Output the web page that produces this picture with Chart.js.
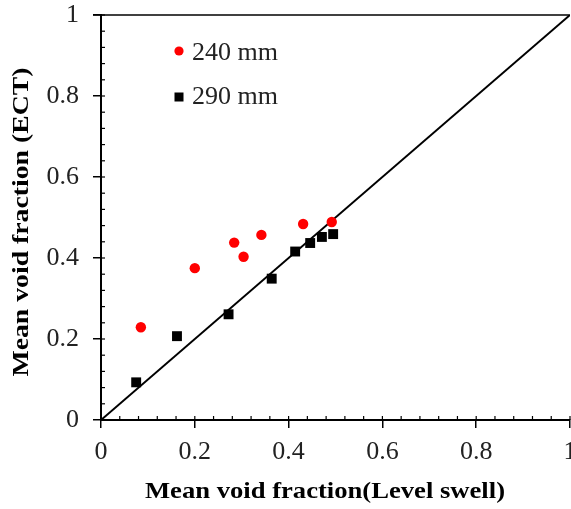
<!DOCTYPE html>
<html><head><meta charset="utf-8">
<script src="https://cdn.jsdelivr.net/npm/chart.js@4.4.1/dist/chart.umd.min.js"></script>
<style>html,body{margin:0;padding:0;background:#fff}#wrap{width:571px;height:509px}</style>
</head><body><div id="wrap"><canvas id="c" width="571" height="509"></canvas></div>
<script>
const seriesNames = ["240 mm", "290 mm"];
const x240 = [0.085, 0.200, 0.284, 0.304, 0.342, 0.431, 0.492];
const y240 = [0.229, 0.375, 0.438, 0.403, 0.457, 0.484, 0.489];
const x290 = [0.075, 0.162, 0.272, 0.364, 0.414, 0.446, 0.471, 0.495];
const y290 = [0.093, 0.207, 0.261, 0.349, 0.416, 0.437, 0.452, 0.459];
const xTitle = "Mean void fraction(Level swell)";
const yTitle = "Mean void fraction (ECT)";
const ticks = [0, 0.2, 0.4, 0.6, 0.8, 1];

const toPts = (xs, ys) => xs.map((x, i) => ({x, y: ys[i]}));
const SERIF = "'Liberation Serif', 'Times New Roman', Times, serif";

const extras = {
  id: 'extras',
  afterDraw(chart) {
    const ctx = chart.ctx, xs = chart.scales.x, ys = chart.scales.y;
    const ca = chart.chartArea;
    ctx.save();
    ctx.strokeStyle = '#000';
    ctx.lineWidth = 1.5;
    ctx.beginPath(); ctx.moveTo(ca.left - 8, ca.top); ctx.lineTo(ca.right, ca.top); ctx.stroke();
    ctx.lineWidth = 1.2;
    for (let i = 0; i <= 25; i++) {
      const v = i * 0.04;
      const px = xs.getPixelForValue(v), py = ys.getPixelForValue(v);
      ctx.beginPath(); ctx.moveTo(px, ca.bottom); ctx.lineTo(px, ca.bottom - 4); ctx.stroke();
      ctx.beginPath(); ctx.moveTo(ca.left, py); ctx.lineTo(ca.left + 4, py); ctx.stroke();
    }
    ctx.fillStyle = '#000';
    const drawScaled = (text, font, cx, cy, width, rot) => {
      ctx.save();
      ctx.font = font;
      const w = ctx.measureText(text).width;
      ctx.translate(cx, cy);
      if (rot) ctx.rotate(rot);
      ctx.scale(width / w, 1);
      ctx.textAlign = 'center'; ctx.textBaseline = 'middle';
      ctx.fillText(text, 0, 0);
      ctx.restore();
    };
    drawScaled(xTitle, 'bold 24px ' + SERIF, 325, 492, 360, 0);
    drawScaled(yTitle, 'bold 24px ' + SERIF, 22, 222, 309, -Math.PI / 2);
    ctx.fillStyle = 'rgb(255,0,0)';
    ctx.beginPath(); ctx.arc(179, 51, 4.6, 0, Math.PI * 2); ctx.fill();
    ctx.fillStyle = '#000';
    ctx.fillRect(174.5, 92.5, 9, 9);
    ctx.font = '26px ' + SERIF;
    ctx.textAlign = 'left'; ctx.textBaseline = 'middle';
    ctx.fillStyle = '#222';
    ctx.fillText(seriesNames[0], 192, 53);
    ctx.fillText(seriesNames[1], 192, 97);
    ctx.restore();
  }
};

function build() {
  new Chart(document.getElementById('c'), {
    type: 'scatter',
    data: {
      datasets: [
        {label: seriesNames[0], data: toPts(x240, y240), pointStyle: 'circle', pointRadius: 5.2,
         backgroundColor: 'rgb(255,0,0)', borderColor: 'rgb(255,0,0)', borderWidth: 0, order: 1},
        {label: seriesNames[1], data: toPts(x290, y290), pointStyle: 'rect', pointRadius: 7,
         backgroundColor: '#000', borderColor: '#000', borderWidth: 0, order: 1},
        {label: 'y = x', type: 'line', data: [{x: 0, y: 0}, {x: 1, y: 1}], borderColor: '#000',
         borderWidth: 2, pointRadius: 0, fill: false, order: 2}
      ]
    },
    options: {
      responsive: false, animation: false,
      layout: {autoPadding: false, padding: {left: 0, right: 1, top: 15, bottom: 0}},
      plugins: {legend: {display: false}, tooltip: {enabled: false}},
      scales: {
        x: {type: 'linear', min: 0, max: 1,
          afterBuildTicks: s => { s.ticks = ticks.map(v => ({value: v})); },
          afterFit: s => { s.height = 89; s.paddingLeft = 0; s.paddingRight = 0; },
          grid: {display: true, drawOnChartArea: false, drawTicks: true, tickLength: 8, color: '#000', lineWidth: 1.5},
          border: {display: true, color: '#000', width: 2},
          ticks: {color: '#222', font: {family: SERIF, size: 26}, padding: 9, maxRotation: 0,
            callback: v => String(v)}
        },
        y: {type: 'linear', min: 0, max: 1,
          afterBuildTicks: s => { s.ticks = ticks.map(v => ({value: v})); },
          afterFit: s => { s.width = 101; s.paddingTop = 0; s.paddingBottom = 0; },
          grid: {display: true, drawOnChartArea: false, drawTicks: true, tickLength: 8, color: '#000', lineWidth: 1.5},
          border: {display: true, color: '#000', width: 2},
          ticks: {color: '#222', font: {family: SERIF, size: 26}, padding: 14,
            callback: v => String(v)}
        }
      }
    },
    plugins: [extras]
  });
}
if (document.fonts && document.fonts.load) {
  Promise.all([
    document.fonts.load("26px 'Liberation Serif'"),
    document.fonts.load("bold 24px 'Liberation Serif'")
  ]).then(build, build);
} else build();
</script></body></html>
